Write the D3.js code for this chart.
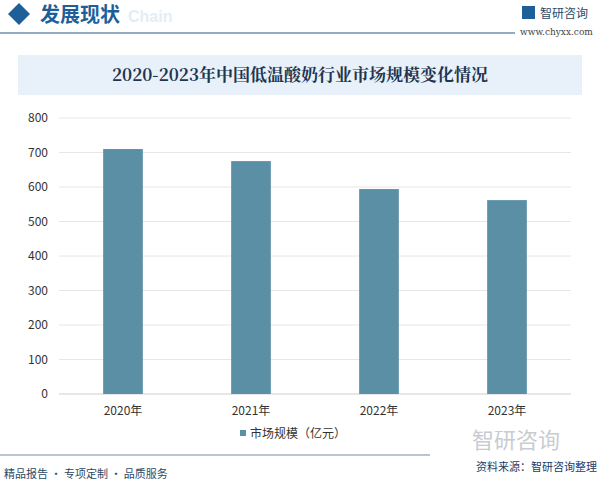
<!DOCTYPE html>
<html><head><meta charset="utf-8">
<script src="https://cdn.jsdelivr.net/npm/d3@7"></script>
<style>body{margin:0;background:#fff;font-family:"Noto Sans CJK SC","Noto Sans",sans-serif}</style>
</head><body><svg id="c" width="600" height="488"></svg>
<script>
var years = ["2020年", "2021年", "2022年", "2023年"]
  , sizes = [710, 675, 594, 562]
  , yTicks = [0, 100, 200, 300, 400, 500, 600, 700, 800]
;
var svg = d3.select("#c"), cjk = '"Noto Sans CJK SC",sans-serif';

// header
svg.append("path").attr("d", "M8,14 L19,3 L30,14 L19,25 Z").attr("fill", "#1f5f99");
svg.append("text").attr("x", 40).attr("y", 22).text("发展现状")
   .attr("font-size", 20).attr("font-weight", "bold").attr("fill", "#1f5f99").attr("font-family", cjk);
svg.append("text").attr("x", 128).attr("y", 22).text("Chain")
   .attr("font-size", 16).attr("font-weight", "bold").attr("fill", "#e3edf6").attr("font-family", "sans-serif");
svg.append("line").attr("x1", 0).attr("x2", 515).attr("y1", 33).attr("y2", 33).attr("stroke", "#6f8fae").attr("stroke-width", 1.5);
svg.append("rect").attr("x", 522).attr("y", 6).attr("width", 13).attr("height", 13).attr("fill", "#1f5f99");
svg.append("text").attr("x", 540).attr("y", 18).text("智研咨询").attr("font-size", 12).attr("fill", "#2a4a6a").attr("font-family", cjk);
svg.append("text").attr("x", 520).attr("y", 35).text("www.chyxx.com").attr("font-size", 9).attr("fill", "#444").attr("font-family", "DejaVu Serif");

// title band
svg.append("rect").attr("x", 18).attr("y", 55).attr("width", 564).attr("height", 40).attr("fill", "#e8f1f9");
svg.append("text").attr("x", 300).attr("y", 81).attr("text-anchor", "middle").text("2020-2023年中国低温酸奶行业市场规模变化情况")
   .attr("font-size", 17).attr("font-weight", "bold").attr("fill", "#1f3550").attr("font-family", '"Noto Serif CJK SC","Noto Sans CJK SC",serif');

// chart
var x = d3.scaleBand().domain(years).range([59, 571]).paddingInner(0.69).paddingOuter(0.345);
var y = d3.scaleLinear().domain([0, 800]).range([394, 118]);
var g = svg.append("g");
g.selectAll(".grid").data(yTicks).join("line")
   .attr("x1", 59).attr("x2", 571).attr("y1", function (d) { return y(d); }).attr("y2", function (d) { return y(d); })
   .attr("stroke", function (d) { return d ? "#e6e6e6" : "#cfcfcf"; });
g.selectAll(".yl").data(yTicks).join("text")
   .attr("x", 48).attr("y", function (d) { return y(d) + 4; }).attr("text-anchor", "end").text(function (d) { return d; })
   .attr("font-size", 12).attr("fill", "#333").attr("font-family", cjk);
g.selectAll(".bar").data(sizes).join("rect")
   .attr("x", function (d, i) { return x(years[i]); }).attr("width", x.bandwidth())
   .attr("y", function (d) { return y(d); }).attr("height", function (d) { return y(0) - y(d); })
   .attr("fill", "#5b8fa5");
g.selectAll(".xl").data(years).join("text")
   .attr("x", function (d) { return x(d) + x.bandwidth() / 2; }).attr("y", 415).attr("text-anchor", "middle").text(function (d) { return d; })
   .attr("font-size", 12).attr("fill", "#333").attr("font-family", cjk);

// legend
svg.append("rect").attr("x", 240).attr("y", 430).attr("width", 6).attr("height", 6).attr("fill", "#5b8fa5");
svg.append("text").attr("x", 250).attr("y", 438).text("市场规模（亿元）").attr("font-size", 12).attr("fill", "#333").attr("font-family", cjk);

// watermark + footer
svg.append("text").attr("x", 472).attr("y", 448).text("智研咨询").attr("font-size", 22).attr("fill", "#c8ccd2").attr("font-family", cjk);
svg.append("line").attr("x1", 0).attr("x2", 430).attr("y1", 455).attr("y2", 455).attr("stroke", "#6f8fae").attr("stroke-width", 1);
svg.append("text").attr("x", 4).attr("y", 478).text("精品报告 · 专项定制 · 品质服务").attr("font-size", 11).attr("fill", "#2a4a6a").attr("font-family", cjk);
svg.append("text").attr("x", 597).attr("y", 471).attr("text-anchor", "end").text("资料来源：智研咨询整理").attr("font-size", 11).attr("fill", "#1f3a66").attr("font-family", cjk);
</script></body></html>
